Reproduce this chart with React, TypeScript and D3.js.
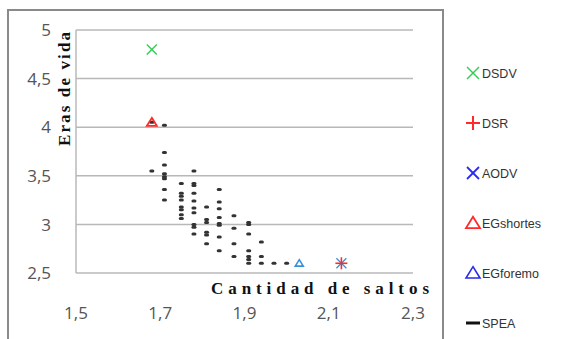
import React from "react";
import * as d3 from "d3";

// single-point series
const dsdv = [{ x: 1.68, y: 4.8 }];
const dsr = [{ x: 2.13, y: 2.6 }];
const aodv = [{ x: 2.13, y: 2.6 }];
const egShortest = [{ x: 1.68, y: 4.05 }];
const egForemost = [{ x: 2.03, y: 2.6 }];

// SPEA front, grouped by hop count column
const speaX = [1.68, 1.71, 1.75, 1.78, 1.81, 1.84, 1.875, 1.91, 1.94, 1.97, 2.0];
const speaY = [
  [3.55, 4.05],
  [4.02, 3.74, 3.61, 3.52, 3.49, 3.47, 3.36, 3.25],
  [3.42, 3.32, 3.29, 3.25, 3.18, 3.15, 3.1, 3.06],
  [3.55, 3.42, 3.4, 3.32, 3.24, 3.17, 3.12, 3.0, 2.97, 2.9],
  [3.18, 3.05, 3.02, 2.92, 2.89, 2.8],
  [3.36, 3.23, 3.16, 3.07, 3.01, 2.99, 2.87, 2.73],
  [3.09, 2.96, 2.8, 2.67],
  [3.02, 3.0, 2.9, 2.73, 2.67, 2.64, 2.6],
  [2.82, 2.67, 2.6],
  [2.6],
  [2.6],
];

const xTicks = [1.5, 1.7, 1.9, 2.1, 2.3];
const yTicks = [2.5, 3, 3.5, 4, 4.5, 5];
const legendNames = ["DSDV", "DSR", "AODV", "EGshortes", "EGforemo", "SPEA"];

const GREEN = "#33cc55";
const RED = "#ff2a2a";
const BLUE = "#2a2aee";
const LIGHTBLUE = "#3a8fd8";

const fmt = (v: number) => String(v).replace(".", ",");

function Cross({ x, y, s, color, w = 1.4 }: any) {
  return (
    <g stroke={color} strokeWidth={w}>
      <line x1={x - s} y1={y - s} x2={x + s} y2={y + s} />
      <line x1={x - s} y1={y + s} x2={x + s} y2={y - s} />
    </g>
  );
}

function Plus({ x, y, s, color, w = 1.6 }: any) {
  return (
    <g stroke={color} strokeWidth={w}>
      <line x1={x - s} y1={y} x2={x + s} y2={y} />
      <line x1={x} y1={y - s} x2={x} y2={y + s} />
    </g>
  );
}

function Tri({ x, y, s, color, w = 1.6 }: any) {
  const h = s * 0.9;
  return (
    <path
      d={`M${x},${y - h}L${x + s},${y + h * 0.8}L${x - s},${y + h * 0.8}Z`}
      fill="none"
      stroke={color}
      strokeWidth={w}
    />
  );
}

export default function App() {
  const width = 565;
  const height = 339;
  const x = d3.scaleLinear().domain([1.5, 2.3]).range([76, 413]);
  const y = d3.scaleLinear().domain([2.5, 5]).range([273, 30]);

  const spea = speaX.flatMap((cx, i) => speaY[i].map((cy) => ({ x: cx, y: cy })));
  const legendY = d3.scalePoint<string>().domain(legendNames).range([73, 323]);

  const legendMarker = (name: string, lx: number, ly: number) => {
    switch (name) {
      case "DSDV":
        return <Cross x={lx} y={ly} s={6} color={GREEN} />;
      case "DSR":
        return <Plus x={lx} y={ly} s={7} color={RED} w={2} />;
      case "AODV":
        return <Cross x={lx} y={ly} s={6} color={BLUE} w={1.8} />;
      case "EGshortes":
        return <Tri x={lx} y={ly} s={7} color={RED} w={1.8} />;
      case "EGforemo":
        return <Tri x={lx} y={ly} s={7} color={BLUE} w={1.6} />;
      default:
        return <line x1={lx - 7} x2={lx + 7} y1={ly} y2={ly} stroke="#111" strokeWidth={3} />;
    }
  };

  return (
    <svg
      width={width}
      height={height}
      style={{ position: "absolute", left: 0, top: 0, background: "#fff" }}
    >
      {/* chart frame */}
      <rect x={8} y={10} width={435} height={345} fill="none" stroke="#8a8a8a" strokeWidth={2} />

      {/* grid */}
      {yTicks.map((t) => (
        <line key={t} x1={x(1.5)} x2={x(2.3)} y1={y(t)} y2={y(t)} stroke="#b8b8b8" strokeWidth={1.5} />
      ))}
      <line x1={x(1.5)} x2={x(1.5)} y1={y(5)} y2={y(2.5)} stroke="#b8b8b8" strokeWidth={1.5} />

      {/* y ticks */}
      {yTicks.map((t) => (
        <text
          key={t}
          x={51}
          y={y(t)}
          dy="0.36em"
          textAnchor="end"
          fontFamily="Open Sans, sans-serif"
          fontSize={17}
          fill="#555"
        >
          {fmt(t)}
        </text>
      ))}
      {/* x ticks */}
      {xTicks.map((t) => (
        <text
          key={t}
          x={x(t)}
          y={313}
          dy="0.36em"
          textAnchor="middle"
          fontFamily="Open Sans, sans-serif"
          fontSize={17}
          fill="#555"
        >
          {fmt(t)}
        </text>
      ))}

      {/* axis titles */}
      <text
        x={320}
        y={288}
        dy="0.35em"
        textAnchor="middle"
        fontFamily="Liberation Serif, serif"
        fontWeight="bold"
        fontSize={17}
        fill="#111"
        textLength={218}
        lengthAdjust="spacing"
      >
        Cantidad de saltos
      </text>
      <text
        transform="translate(64,89) rotate(-90)"
        textAnchor="middle"
        dy="0.35em"
        fontFamily="Liberation Serif, serif"
        fontWeight="bold"
        fontSize={17}
        fill="#111"
        textLength={114}
        lengthAdjust="spacing"
      >
        Eras de vida
      </text>

      {/* SPEA */}
      {spea.map((d, i) => (
        <rect key={i} x={x(d.x) - 2.5} y={y(d.y) - 1.5} width={5} height={3} rx={1.5} fill="#333" />
      ))}

      {/* single solutions */}
      {dsdv.map((d, i) => (
        <Cross key={"g" + i} x={x(d.x)} y={y(d.y)} s={5} color={GREEN} />
      ))}
      {egShortest.map((d, i) => (
        <Tri key={"r" + i} x={x(d.x)} y={y(d.y)} s={5} color={RED} w={1.8} />
      ))}
      {egForemost.map((d, i) => (
        <Tri key={"b" + i} x={x(d.x)} y={y(d.y)} s={4} color={LIGHTBLUE} w={1.6} />
      ))}
      {aodv.map((d, i) => (
        <Cross key={"a" + i} x={x(d.x)} y={y(d.y)} s={5} color={LIGHTBLUE} w={1.2} />
      ))}
      {dsr.map((d, i) => (
        <Plus key={"d" + i} x={x(d.x)} y={y(d.y)} s={6} color={RED} w={1.6} />
      ))}

      {/* legend */}
      {legendNames.map((n) => (
        <g key={n}>
          {legendMarker(n, 473, legendY(n)!)}
          <text
            x={482}
            y={legendY(n)!}
            dy="0.36em"
            fontFamily="Liberation Sans, sans-serif"
            fontSize={12.5}
            fill="#333"
          >
            {n}
          </text>
        </g>
      ))}
    </svg>
  );
}
